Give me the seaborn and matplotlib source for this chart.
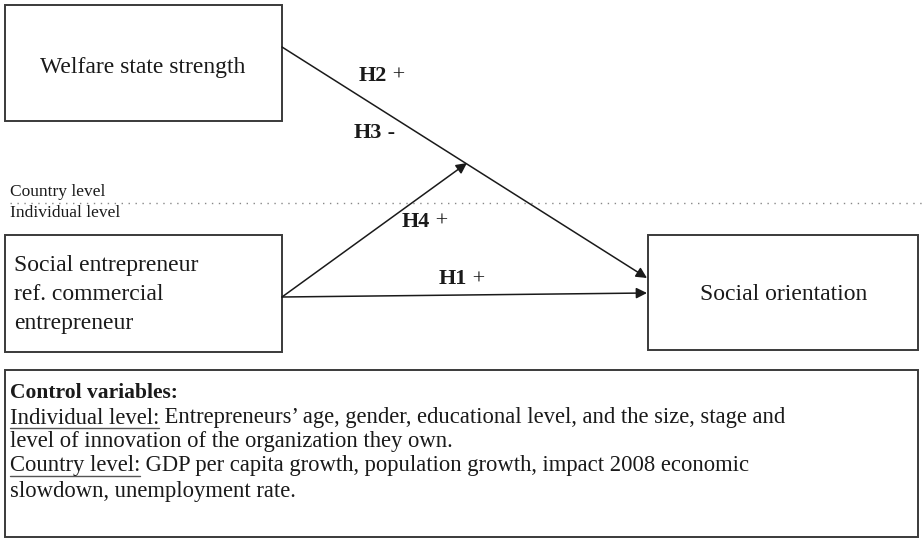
import matplotlib
matplotlib.use("Agg")
import numpy as np
import pandas as pd
import matplotlib.pyplot as plt
from matplotlib.patches import Rectangle
import seaborn as sns

# Diagram content (pixel coordinates of the 922x540 canvas, y downwards)
box_labels = ["Welfare state strength",
              "Social entrepreneur\nref. commercial\nentrepreneur",
              "Social orientation",
              ""]
box_left = [5, 5, 648, 5]
box_top = [5, 235, 235, 370]
box_right = [282, 282, 918, 918]
box_bottom = [121, 352, 350, 537]

arrow_start_x = [282, 282, 282]
arrow_start_y = [47, 297, 297]
arrow_end_x = [647, 467, 647]
arrow_end_y = [278, 163, 293]

hyp_names = ["H2", "H3", "H4", "H1"]
hyp_signs = [" +", " -", " +", " +"]
hyp_x = [359, 354, 402, 439]
hyp_y = [76, 133, 222, 279]

level_labels = ["Country level", "Individual level"]
separator_x = [10, 922]
separator_y = [203, 203]

control_title = "Control variables:"
control_heads = ["Individual level:", None, "Country level:", None]
control_bodies = [" Entrepreneurs\u2019 age, gender, educational level, and the size, stage and",
                  "level of innovation of the organization they own.",
                  " GDP per capita growth, population growth, impact 2008 economic",
                  "slowdown, unemployment rate."]

sns.set_theme(style="white")
plt.rcParams["font.family"] = ["Liberation Serif", "DejaVu Serif"]
INK = "#1a1a1a"
EDGE = "#3a3a3a"
FS_BOX = 17
FS_CTRL = 16.3

fig = plt.figure(figsize=(9.22, 5.4), dpi=100)
ax = fig.add_axes([0, 0, 1, 1])

# level separator
sep = pd.DataFrame({"x": separator_x, "y": separator_y})
sns.lineplot(data=sep, x="x", y="y", ax=ax, color="#888888", lw=1.0,
             linestyle=(0, (1, 4)))
ax.set_xlim(0, 922)
ax.set_ylim(540, 0)
ax.axis("off")
ax.text(10, 192, level_labels[0], ha="left", va="center", fontsize=12.5, color=INK)
ax.text(10, 213, level_labels[1], ha="left", va="center", fontsize=12.5, color=INK)

# boxes
for x0, y0, x1, y1 in zip(box_left, box_top, box_right, box_bottom):
    ax.add_patch(Rectangle((x0, y0), x1 - x0, y1 - y0, fill=False,
                           edgecolor=EDGE, lw=1.4))
ax.text(143, 68, box_labels[0], ha="center", va="center", fontsize=FS_BOX, color=INK)
for line, y in zip(box_labels[1].split("\n"), [266, 294, 323]):
    ax.text(14, y, line, ha="left", va="center", fontsize=FS_BOX, color=INK)
ax.text(784, 295, box_labels[2], ha="center", va="center", fontsize=FS_BOX, color=INK)

# arrows
for sx, sy, ex, ey in zip(arrow_start_x, arrow_start_y, arrow_end_x, arrow_end_y):
    ax.annotate("", xy=(ex, ey), xytext=(sx, sy),
                arrowprops=dict(arrowstyle="-|>", lw=1.1, color=INK,
                                shrinkA=0, shrinkB=0, mutation_scale=16))

# hypothesis labels
for name, sign, x, y in zip(hyp_names, hyp_signs, hyp_x, hyp_y):
    t = ax.text(x, y, name, ha="left", va="center", fontsize=16,
                fontweight="bold", color=INK)
    ax.annotate(sign, xy=(1, 0.5), xycoords=t, ha="left", va="center",
                fontsize=16, color=INK)

# control variables box text
ax.text(10, 393, control_title, ha="left", va="center", fontsize=15.5,
        fontweight="bold", color=INK)
fig.canvas.draw()
renderer = fig.canvas.get_renderer()
line_y = [418, 442, 466, 491]
for head, body, y in zip(control_heads, control_bodies, line_y):
    if head is None:
        ax.text(10, y, body, ha="left", va="center", fontsize=FS_CTRL, color=INK)
        continue
    t = ax.text(10, y, head, ha="left", va="center", fontsize=FS_CTRL, color=INK)
    bb = t.get_window_extent(renderer)
    inv = ax.transData.inverted()
    (bx0, by0), (bx1, by1) = inv.transform([[bb.x0, bb.y0], [bb.x1, bb.y1]])
    ax.plot([bx0, bx1], [by0 - 1, by0 - 1], color="#555555", lw=1.0)
    ax.annotate(body, xy=(1, 0.5), xycoords=t, ha="left", va="center",
                fontsize=FS_CTRL, color=INK)

fig.savefig("out.png", dpi=100, facecolor="white")
